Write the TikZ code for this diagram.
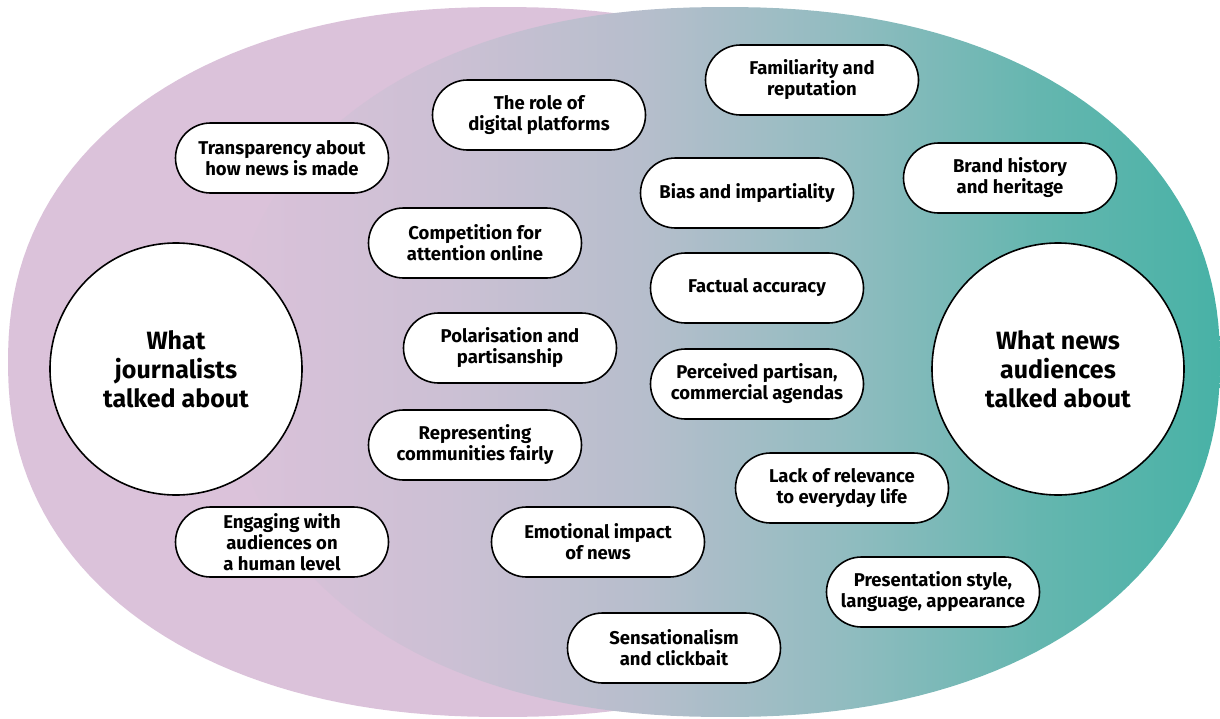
\documentclass[tikz,border=0pt]{standalone}
\usepackage{fontspec}
\setmainfont{Fira Sans}
\definecolor{pinkc}{RGB}{219,194,218}
\pgfdeclarehorizontalshading{tealgrad}{100bp}{%
  color(0bp)=(pinkc);
  color(25bp)=(pinkc);
  color(36bp)=(rgb,255:red,204;green,192;blue,212);
  color(46bp)=(rgb,255:red,182;green,190;blue,204);
  color(56bp)=(rgb,255:red,145;green,188;blue,192);
  color(66bp)=(rgb,255:red,100;green,182;blue,175);
  color(75bp)=(rgb,255:red,72;green,178;blue,166);
  color(100bp)=(rgb,255:red,72;green,178;blue,166)}
\tikzset{
  topic/.style={draw=black, line width=1.6pt, fill=white, rounded corners=35pt,
    minimum width=213pt, minimum height=70pt, align=center, inner sep=2pt,
    font=\fontsize{18.5}{21}\selectfont\bfseries},
  bigcirc/.style={draw=black, line width=1.6pt, fill=white, circle,
    minimum size=252pt, align=center, inner sep=0pt,
    font=\fontsize{25}{29}\selectfont\bfseries}
}
\begin{document}
\begin{tikzpicture}[x=1pt,y=-1pt]
\useasboundingbox (0,0) rectangle (1220,718);
% pink (left) area
\fill[pinkc] plot[domain=1:359, samples=180]
  ({503+495*cos(\x)*abs(cos(\x))^(-0.091)}, {362+355*sin(\x)*abs(sin(\x))^(-0.091)}) -- cycle;
% teal (right) area
\shade[shading=tealgrad] plot[domain=1:359, samples=180]
  ({725+495*cos(\x)*abs(cos(\x))^(-0.091)}, {362+355*sin(\x)*abs(sin(\x))^(-0.091)}) -- cycle;

\node[bigcirc] (jour) at (176,369) {What\\journalists\\talked about};
\node[bigcirc] (aud) at (1058,369) {What news\\audiences\\talked about};

\node[topic] (t1) at (282,158) {Transparency about\\how news is made};
\node[topic] (t2) at (539,115) {The role of\\digital platforms};
\node[topic] (t3) at (812,80) {Familiarity and\\reputation};
\node[topic] (t4) at (1010,178) {Brand history\\and heritage};
\node[topic] (t5) at (747,193) {Bias and impartiality};
\node[topic] (t6) at (475,243) {Competition for\\attention online};
\node[topic] (t7) at (757,288) {Factual accuracy};
\node[topic] (t8) at (510,348) {Polarisation and\\partisanship};
\node[topic] (t9) at (757,384) {Perceived partisan,\\commercial agendas};
\node[topic] (t10) at (475,445) {Representing\\communities fairly};
\node[topic] (t11) at (842,488) {Lack of relevance\\to everyday life};
\node[topic] (t12) at (282,542) {Engaging with\\audiences on\\a human level};
\node[topic] (t13) at (598,542) {Emotional impact\\of news};
\node[topic] (t14) at (933,592) {Presentation style,\\language, appearance};
\node[topic] (t15) at (674,648) {Sensationalism\\and clickbait};
\end{tikzpicture}
\end{document}
